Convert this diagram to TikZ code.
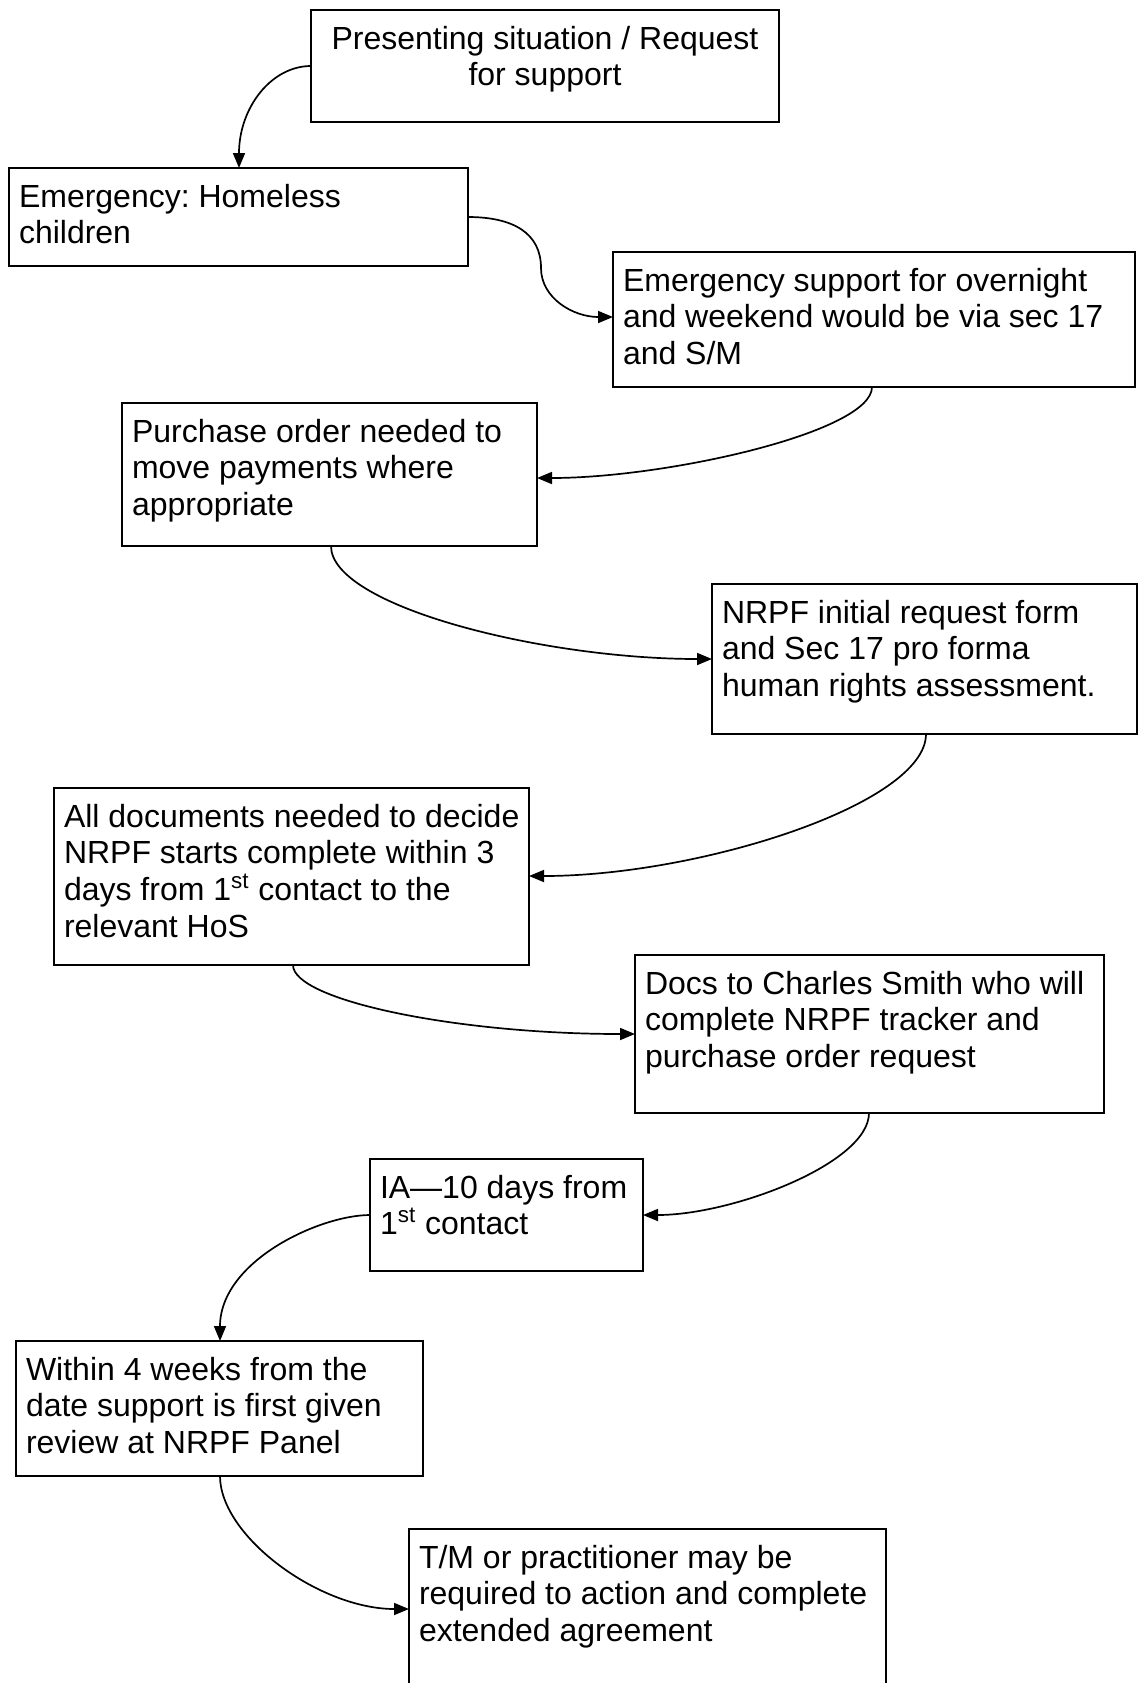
\documentclass[tikz,border=0pt]{standalone}
\usepackage{fontspec}
\setmainfont{Liberation Sans}
\usetikzlibrary{arrows.meta}
\newcommand\fst{\rule{0pt}{12pt}}
\frenchspacing
\begin{document}
\begin{tikzpicture}[x=0.5pt,y=-0.5pt,
  box/.style={draw, line width=1.2pt, inner sep=0pt, outer sep=0pt, anchor=north west, rectangle},
  txt/.style={inner sep=0pt, outer sep=0pt, anchor=north west, align=left, font=\fontsize{16}{18.4}\selectfont},
  arr/.style={line width=0.85pt, -{Triangle[length=7.5pt,width=6pt]}}]
\useasboundingbox (0,0) rectangle (1139,1683);
% boxes
\node[box, minimum width=234pt, minimum height=56pt] (b1) at (311,10) {};
\node[box, minimum width=229.5pt, minimum height=49pt] (b2) at (9,168) {};
\node[box, minimum width=261pt, minimum height=67.5pt] (b3) at (613,252) {};
\node[box, minimum width=207.5pt, minimum height=71.5pt] (b4) at (122,403) {};
\node[box, minimum width=212.5pt, minimum height=75pt] (b5) at (712,584) {};
\node[box, minimum width=237.5pt, minimum height=88.5pt] (b6) at (54,788) {};
\node[box, minimum width=234.5pt, minimum height=79pt] (b7) at (635,955) {};
\node[box, minimum width=136.5pt, minimum height=56pt] (b8) at (370,1159) {};
\node[box, minimum width=203.5pt, minimum height=67.5pt] (b9) at (16,1341) {};
\node[box, minimum width=238.5pt, minimum height=85pt] (b10) at (409,1529) {};
% texts
\node[txt, anchor=north, align=center] (t1) at ([yshift=-7.5pt]b1.north) {\fst Presenting situation / Request\\for support};
\node[txt] (t2) at ([xshift=5pt,yshift=-7.5pt]b2.north west) {\fst Emergency: Homeless\\children};
\node[txt] (t3) at ([xshift=5pt,yshift=-7.5pt]b3.north west) {\fst Emergency support for overnight\\and weekend would be via sec 17\\and S/M};
\node[txt] (t4) at ([xshift=5pt,yshift=-7.5pt]b4.north west) {\fst Purchase order needed to\\move payments where\\appropriate};
\node[txt] (t5) at ([xshift=5pt,yshift=-7.5pt]b5.north west) {\fst NRPF initial request form\\and Sec 17 pro forma\\human rights assessment.};
\node[txt] (t6) at ([xshift=5pt,yshift=-7.5pt]b6.north west) {\fst All documents needed to decide\\NRPF starts complete within 3\\days from 1\textsuperscript{st} contact to the\\relevant HoS};
\node[txt] (t7) at ([xshift=5pt,yshift=-7.5pt]b7.north west) {\fst Docs to Charles Smith who will\\complete NRPF tracker and\\purchase order request};
\node[txt] (t8) at ([xshift=5pt,yshift=-7.5pt]b8.north west) {\fst IA—10 days from\\1\textsuperscript{st} contact};
\node[txt] (t9) at ([xshift=5pt,yshift=-7.5pt]b9.north west) {\fst Within 4 weeks from the\\date support is first given\\review at NRPF Panel};
\node[txt] (t10) at ([xshift=5pt,yshift=-7.5pt]b10.north west) {\fst T/M or practitioner may be\\required to action and complete\\extended agreement};
% connectors
\coordinate (m2) at (541,268);
\draw[arr] ([yshift=-28pt]b1.north west) .. controls +(-40,0) and +(0,-60) .. ([xshift=115pt]b2.north west);
\draw[line width=0.85pt] ([yshift=-24.5pt]b2.north east) .. controls +(45,0) and +(0,-35) .. (m2);
\draw[arr] (m2) .. controls +(0,30) and +(-40,0) .. ([yshift=-32.5pt]b3.north west);
\draw[arr] ([xshift=129.5pt]b3.south west) .. controls +(0,45) and +(130,0) .. ([yshift=-37.5pt]b4.north east);
\draw[arr] ([xshift=104.5pt]b4.south west) .. controls +(0,60) and +(-170,0) .. ([yshift=-37.5pt]b5.north west);
\draw[arr] ([xshift=107pt]b5.south west) .. controls +(0,70) and +(170,0) .. ([yshift=-44pt]b6.north east);
\draw[arr] ([xshift=119.5pt]b6.south west) .. controls +(0,35) and +(-180,0) .. ([yshift=-39.5pt]b7.north west);
\draw[arr] ([xshift=117pt]b7.south west) .. controls +(0,50) and +(90,0) .. ([yshift=-28pt]b8.north east);
\draw[arr] ([yshift=-28pt]b8.north west) .. controls +(-50,0) and +(0,-80) .. ([xshift=102pt]b9.north west);
\draw[arr] ([xshift=102pt]b9.south west) .. controls +(0,60) and +(-90,0) .. ([yshift=-40pt]b10.north west);
\end{tikzpicture}
\end{document}
